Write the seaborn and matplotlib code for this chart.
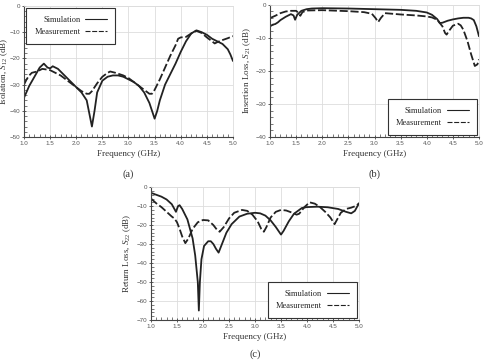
import pandas as pd
import seaborn as sns
import matplotlib.pyplot as plt
from matplotlib.ticker import MultipleLocator

# (a) Isolation S12
a_sim_x = [1.0, 1.1, 1.2, 1.3, 1.38, 1.45, 1.5, 1.55, 1.65, 1.8, 1.95, 2.1, 2.2, 2.25, 2.3, 2.35, 2.4,
           2.5, 2.6, 2.7, 2.8, 2.9, 3.0, 3.1, 3.2, 3.3, 3.4, 3.45, 3.5, 3.55, 3.6, 3.7, 3.8, 3.9,
           4.0, 4.1, 4.2, 4.3, 4.4, 4.5, 4.6, 4.7, 4.8, 4.9, 4.95, 5.0]
a_sim_y = [-35, -30.5, -27, -23.5, -22, -23.5, -23.8, -23, -24, -27, -30, -33, -36, -41, -46, -40, -33,
           -28.5, -27, -26.5, -26.5, -27, -28, -29, -30.5, -33, -37, -40, -43, -40, -36, -30, -26, -22,
           -17.5, -13.5, -10.5, -9.3, -10, -11, -12.5, -13.5, -14.5, -16.5, -18.5, -21]
a_mea_x = [1.0, 1.05, 1.1, 1.15, 1.25, 1.35, 1.45, 1.5, 1.6, 1.7, 1.8, 1.9, 2.0, 2.1, 2.2, 2.25, 2.3,
           2.4, 2.5, 2.6, 2.65, 2.75, 2.9, 3.0, 3.1, 3.2, 3.3, 3.4, 3.45, 3.5, 3.6, 3.7, 3.8, 3.9,
           3.95, 4.0, 4.1, 4.2, 4.3, 4.4, 4.5, 4.6, 4.65, 4.7, 4.8, 4.9, 5.0]
a_mea_y = [-30, -28, -26.5, -25.5, -25, -24, -24.3, -24.5, -25.5, -26.5, -28, -29.5, -31, -32.5, -33.5,
           -33.5, -32.5, -29.5, -27, -25.5, -25, -25.5, -26.5, -27.5, -29, -30.5, -32, -33.5, -33.5, -32,
           -28, -23.5, -19, -15, -12.5, -12, -11.8, -10.5, -9.5, -10.3, -12, -13.5, -14.3, -13.8, -13,
           -12.3, -11.5]

# (b) Insertion loss S21
b_sim_x = [1.0, 1.05, 1.1, 1.15, 1.2, 1.3, 1.4, 1.45, 1.48, 1.52, 1.6, 1.7, 1.8, 2.0, 2.5, 3.0, 3.5,
           3.8, 4.0, 4.1, 4.2, 4.25, 4.3, 4.4, 4.5, 4.6, 4.7, 4.8, 4.85, 4.9, 4.95, 5.0]
b_sim_y = [-6.5, -6, -5.8, -5.3, -4.6, -3.6, -2.8, -3.2, -4.5, -3, -1.8, -1.3, -1.1, -1.0, -1.1, -1.3,
           -1.5, -1.8, -2.3, -3, -4.3, -5.5, -5.4, -4.8, -4.4, -4.1, -3.9, -3.9, -4.1, -4.6, -6.5, -9.5]
b_mea_x = [1.0, 1.1, 1.2, 1.3, 1.4, 1.5, 1.55, 1.58, 1.62, 1.7, 2.0, 2.5, 2.8, 2.95, 3.02, 3.07, 3.12,
           3.2, 3.5, 3.8, 4.0, 4.1, 4.2, 4.3, 4.35, 4.38, 4.42, 4.5, 4.6, 4.65, 4.7, 4.78, 4.85, 4.92,
           4.97, 5.0]
b_mea_y = [-4, -3.3, -2.5, -2, -1.8, -1.8, -2.5, -3.3, -2.2, -1.7, -1.6, -1.9, -2.2, -2.7, -4, -5.2, -4,
           -2.5, -2.9, -3.2, -3.5, -3.8, -4.5, -6.5, -8.5, -9, -8, -6.3, -5.7, -6.2, -7.5, -11, -15,
           -18.5, -18, -16.5]

# (c) Return loss S22
c_sim_x = [1.0, 1.1, 1.2, 1.3, 1.4, 1.45, 1.48, 1.52, 1.55, 1.6, 1.7, 1.8, 1.85, 1.9, 1.92, 1.94, 1.97,
           2.02, 2.1, 2.15, 2.2, 2.25, 2.3, 2.35, 2.45, 2.55, 2.7, 2.85, 3.0, 3.1, 3.2, 3.3, 3.4, 3.5,
           3.55, 3.65, 3.75, 3.9, 4.0, 4.2, 4.4, 4.6, 4.75, 4.85, 4.92, 5.0]
c_sim_y = [-3, -4, -5, -6.5, -9, -11.5, -13, -10, -9.5, -11.5, -17, -27, -36, -50, -65, -50, -38, -31,
           -28.5, -28.5, -30, -32.5, -34.5, -31, -24, -19.5, -15.5, -14, -13.5, -13.8, -15, -17.5, -21,
           -25, -23, -18, -14, -11, -10.5, -10.3, -10.6, -11.5, -13, -13.8, -12.5, -8.5]
c_mea_x = [1.0, 1.1, 1.2, 1.3, 1.4, 1.45, 1.5, 1.55, 1.6, 1.66, 1.72, 1.8, 1.9, 2.0, 2.1, 2.2, 2.27,
           2.32, 2.4, 2.5, 2.6, 2.75, 2.85, 2.95, 3.05, 3.12, 3.17, 3.22, 3.3, 3.4, 3.5, 3.6, 3.7, 3.8,
           3.85, 3.95, 4.05, 4.15, 4.25, 4.35, 4.45, 4.53, 4.58, 4.65, 4.75, 4.85, 4.95, 5.0]
c_mea_y = [-6, -8.5, -10.5, -13, -15.5, -16.5, -18.5, -22, -26, -29.5, -27, -22, -18.5, -17.3, -17.5,
           -20, -22.5, -23.5, -21, -16.5, -13.5, -12, -12.5, -14.5, -18, -22, -23.5, -21, -16, -13, -12,
           -12.3, -13.3, -14.5, -14, -10.5, -8, -8.7, -10.5, -13, -16, -19.5, -17, -13.5, -11.5, -10.8,
           -9.8, -8.5]

sns.set_style("whitegrid")
plt.rcParams["font.family"] = ["Liberation Serif", "DejaVu Serif"]
plt.rcParams["mathtext.fontset"] = "custom"
plt.rcParams["mathtext.it"] = "Liberation Serif:italic"
plt.rcParams["mathtext.rm"] = "Liberation Serif"

fig = plt.figure(figsize=(4.86, 3.62), dpi=100)

panels = [
    ([0.0494, 0.6215, 0.430, 0.362], a_sim_x, a_sim_y, a_mea_x, a_mea_y, -50,
     r"Isolation, $S_{12}$ (dB)", "(a)", "upper left", -0.28, -0.066),
    ([0.5556, 0.6215, 0.430, 0.365], b_sim_x, b_sim_y, b_mea_x, b_mea_y, -40,
     r"Insertion Loss, $S_{21}$ (dB)", "(b)", "lower right", -0.28, -0.08),
    ([0.3107, 0.116, 0.428, 0.367], c_sim_x, c_sim_y, c_mea_x, c_mea_y, -70,
     r"Return Loss, $S_{22}$ (dB)", "(c)", "lower right", -0.255, -0.085),
]

for rect, sx, sy, mx, my, ymin, ylab, tag, loc, tag_y, lab_x in panels:
    ax = fig.add_axes(rect)
    df = pd.concat([
        pd.DataFrame({"f": sx, "s": sy, "kind": "Simulation"}),
        pd.DataFrame({"f": mx, "s": my, "kind": "Measurement"}),
    ])
    sns.lineplot(data=df, x="f", y="s", style="kind", color="#222222", lw=1.3,
                 dashes={"Simulation": "", "Measurement": (4.5, 1.5)}, sort=False,
                 estimator=None, ax=ax)
    ax.set_xlim(1.0, 5.0)
    ax.set_ylim(ymin, 0)
    ax.xaxis.set_major_locator(MultipleLocator(0.5))
    ax.xaxis.set_minor_locator(MultipleLocator(0.1))
    ax.yaxis.set_major_locator(MultipleLocator(10))
    ax.yaxis.set_minor_locator(MultipleLocator(2))
    ax.grid(True, which="major", color="#dddddd", lw=0.6)
    ax.grid(False, which="minor")
    ax.tick_params(which="major", direction="inout", length=3.5, width=0.6, color="#444444",
                   labelsize=4.5, labelcolor="#555555", pad=0.8, left=True, bottom=True)
    ax.tick_params(which="minor", direction="in", length=2.5, width=0.5, color="#444444",
                   left=True, bottom=True)
    for lab in ax.get_xticklabels() + ax.get_yticklabels():
        lab.set_family("Liberation Sans")
    for side in ["left", "bottom"]:
        ax.spines[side].set_color("#444444")
        ax.spines[side].set_linewidth(0.8)
    for side in ["top", "right"]:
        ax.spines[side].set_color("#dddddd")
        ax.spines[side].set_linewidth(0.6)
    ax.set_xlabel("Frequency (GHz)", fontsize=6.5, color="#333333", labelpad=3)
    ax.set_ylabel(ylab, fontsize=6.5, color="#333333")
    ax.yaxis.set_label_coords(lab_x, 0.5)
    ax.text(0.5, tag_y, tag, transform=ax.transAxes, ha="center", va="center",
            fontsize=7.5, color="#333333")
    leg = ax.legend(loc=loc, fontsize=6, markerfirst=False, handlelength=2.6,
                    handletextpad=0.6, frameon=True, fancybox=False, borderaxespad=0.25,
                    labelspacing=0.4, borderpad=1.0)
    leg.get_frame().set_edgecolor("#333333")
    leg.get_frame().set_linewidth(0.8)
    leg.get_frame().set_alpha(1)
    for line in leg.get_lines():
        line.set_linewidth(0.8)

fig.savefig("out.png", dpi=100)
